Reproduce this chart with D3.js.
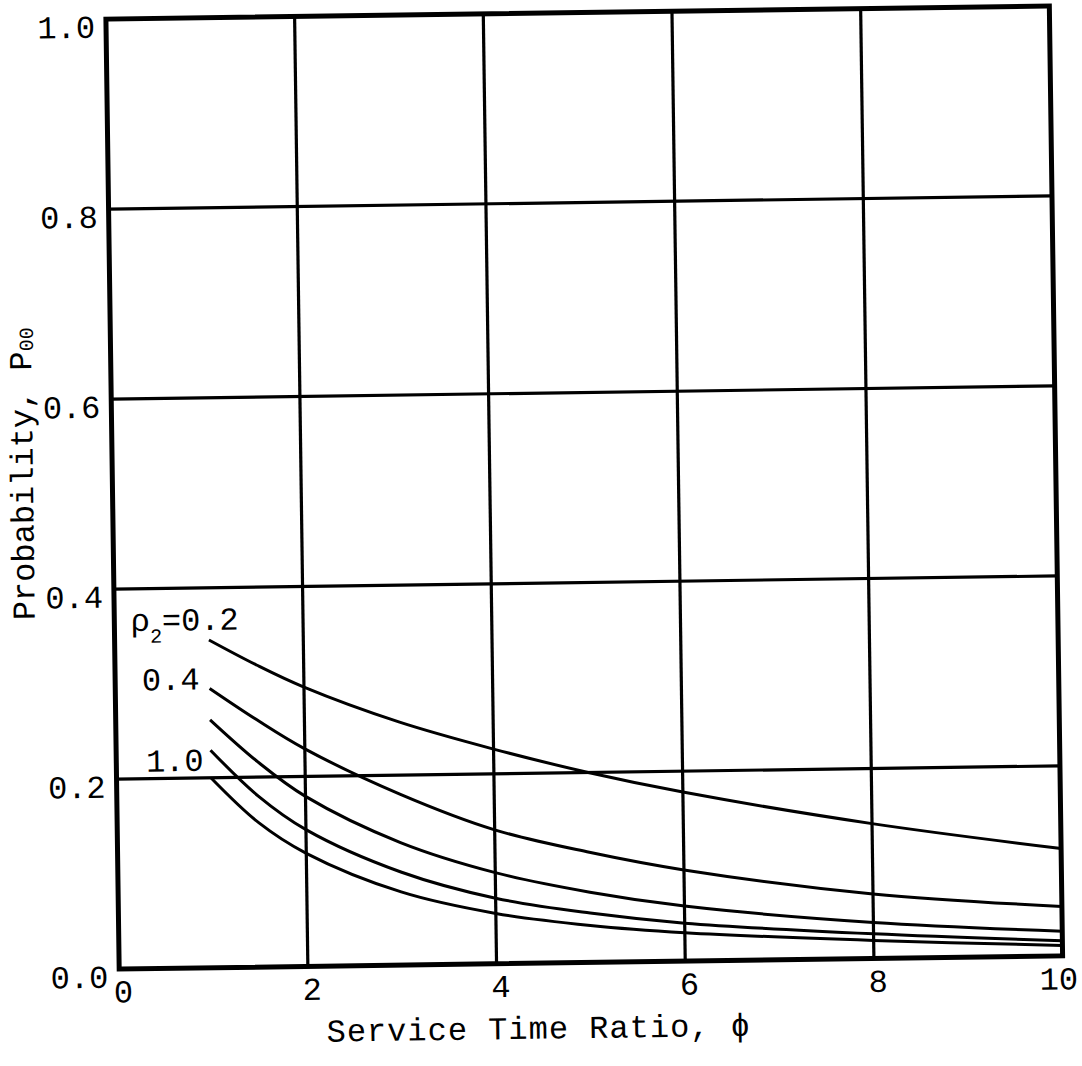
<!DOCTYPE html>
<html>
<head>
<meta charset="utf-8">
<script src="https://cdn.jsdelivr.net/npm/d3@7"></script>
<style>
  html, body { margin: 0; padding: 0; background: #fff; }
  svg { display: block; }
  text { font-family: "Liberation Mono", "Courier New", monospace; fill: #000; }
</style>
</head>
<body>
<svg id="chart" width="1082" height="1066"></svg>
<script>
// ---- data ----
const phi = [1, 1.5, 2, 3, 4, 5, 6, 8, 10];
const rho02 = [0.345, 0.318, 0.294, 0.256, 0.226, 0.200, 0.178, 0.142, 0.113];
const rho04 = [0.294, 0.260, 0.229, 0.180, 0.141, 0.116, 0.096, 0.068, 0.052];
const rho06 = [0.261, 0.216, 0.179, 0.129, 0.096, 0.074, 0.058, 0.038, 0.026];
const rho08 = [0.229, 0.180, 0.144, 0.098, 0.069, 0.052, 0.040, 0.026, 0.016];
const rho10 = [0.200, 0.152, 0.119, 0.077, 0.053, 0.039, 0.030, 0.019, 0.011];
const seriesValues = [rho02, rho04, rho06, rho08, rho10];
const seriesLabels = ["=0.2", "0.4", null, null, "1.0"];
const xTicks = [0, 2, 4, 6, 8, 10];
const yTicks = [0.0, 0.2, 0.4, 0.6, 0.8, 1.0];
const xTitle = "Service Time Ratio, ϕ";
const yTitle = "Probability, P";
const yTitleSub = "00";

// ---- layout ----
const svg = d3.select("#chart");
const pLeft = 112.5, pRight = 1056, pTop = 12.5, pBottom = 962.5;
const x = d3.scaleLinear().domain([0, 10]).range([pLeft, pRight]);
const y = d3.scaleLinear().domain([0, 1]).range([pBottom, pTop]);

const g = svg.append("g").attr("transform", "rotate(-0.8, 584, 487)");

// grid lines
g.append("g").selectAll("line").data(xTicks.slice(1, -1)).join("line")
  .attr("x1", d => x(d)).attr("x2", d => x(d))
  .attr("y1", pTop).attr("y2", pBottom)
  .attr("stroke", "#000").attr("stroke-width", 3.2);
g.append("g").selectAll("line").data(yTicks.slice(1, -1)).join("line")
  .attr("x1", pLeft).attr("x2", pRight)
  .attr("y1", d => y(d)).attr("y2", d => y(d))
  .attr("stroke", "#000").attr("stroke-width", 3.2);

// frame
g.append("rect")
  .attr("x", pLeft).attr("y", pTop)
  .attr("width", pRight - pLeft).attr("height", pBottom - pTop)
  .attr("fill", "none").attr("stroke", "#000").attr("stroke-width", 5);

// y tick labels
g.append("g").selectAll("text").data(yTicks).join("text")
  .attr("x", pLeft - 11).attr("y", d => y(d) + 10)
  .attr("text-anchor", "end").attr("dominant-baseline", "middle")
  .attr("font-size", 32)
  .text(d => d3.format(".1f")(d));

// x tick labels
g.append("g").selectAll("text").data(xTicks).join("text")
  .attr("x", d => x(d) + (d >= 10 ? -4 : 4)).attr("y", 996)
  .attr("text-anchor", "middle")
  .attr("font-size", 32)
  .text(d => d);

// axis titles
g.append("text")
  .attr("x", 319).attr("y", 1038)
  .attr("font-size", 32)
  .attr("letter-spacing", 1)
  .text(xTitle);

const yt = g.append("text")
  .attr("transform", "translate(33,466) rotate(-90)")
  .attr("text-anchor", "middle")
  .attr("font-size", 32);
yt.append("tspan").text(yTitle);
yt.append("tspan").attr("font-size", 20).attr("dy", 2).text(yTitleSub);

// curves
const line = d3.line()
  .x((d, i) => x(phi[i]))
  .y(d => y(d))
  .curve(d3.curveCatmullRom.alpha(0.5));

g.append("g").selectAll("path").data(seriesValues).join("path")
  .attr("d", d => line(d))
  .attr("fill", "none").attr("stroke", "#000").attr("stroke-width", 3);

// curve labels
const labelOffsets = [[30, -10], [-10, 1], null, null, [-7, -7]];
seriesValues.forEach((vals, i) => {
  if (!seriesLabels[i]) return;
  const t = g.append("text")
    .attr("x", x(phi[0]) + labelOffsets[i][0])
    .attr("y", y(vals[0]) + labelOffsets[i][1])
    .attr("text-anchor", "end")
    .attr("font-size", 32);
  if (i === 0) {
    t.append("tspan").text("ρ");
    t.append("tspan").attr("font-size", 20).attr("dy", 12).text("2");
    t.append("tspan").attr("dy", -12).text(seriesLabels[i]);
  } else {
    t.text(seriesLabels[i]);
  }
});
</script>
</body>
</html>
